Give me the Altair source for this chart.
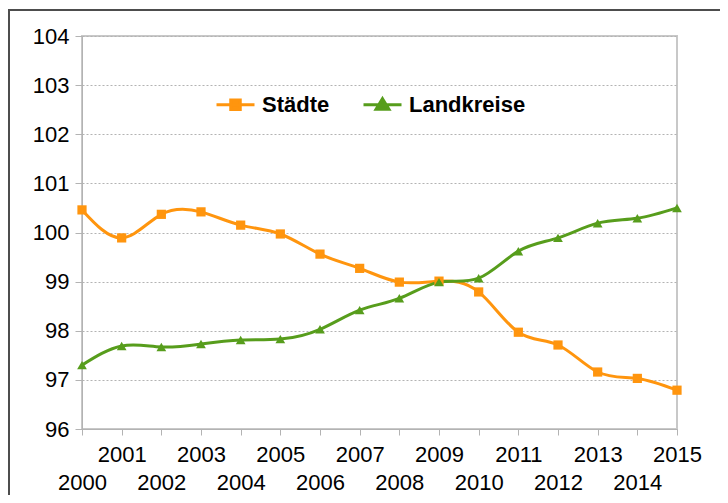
import altair as alt
import pandas as pd

years = list(range(2000, 2016))
staedte = [100.46, 99.89, 100.37, 100.42, 100.15, 99.97, 99.56, 99.27,
           98.99, 99.01, 98.79, 97.97, 97.71, 97.16, 97.03, 96.79]
landkreise = [97.30, 97.69, 97.67, 97.73, 97.81, 97.83, 98.03, 98.42,
              98.66, 98.99, 99.07, 99.62, 99.89, 100.19, 100.29, 100.50]
series_names = ["Städte", "Landkreise"]
series_colors = ["#ff950e", "#579d1c"]
series_shapes = ["square", "triangle-up"]
y_ticks = [96, 97, 98, 99, 100, 101, 102, 103, 104]

rows = []
for name, vals in zip(series_names, [staedte, landkreise]):
    for yr, v in zip(years, vals):
        rows.append({"year": yr, "value": v, "series": name})
df = pd.DataFrame(rows)

FONT = "Liberation Sans"
GRID = "#b3b3b3"

x_enc = alt.X("year:Q",
              scale=alt.Scale(domain=[2000, 2015], nice=False, zero=False),
              axis=alt.Axis(values=years, format="d", title=None,
                            labelExpr="datum.value % 2 == 1 ? [datum.label] : ['', datum.label]",
                            labelLineHeight=28, labelBaseline="top",
                            labelPadding=9, tickSize=6, tickColor=GRID,
                            domainColor=GRID, grid=False, labelFlush=False,
                            labelOverlap=False, labelFont=FONT, labelFontSize=22,
                            labelColor="#000000"))
y_enc = alt.Y("value:Q",
              scale=alt.Scale(domain=[96, 104], nice=False, zero=False),
              axis=alt.Axis(values=y_ticks, title=None, tickSize=7,
                            tickColor=GRID, domainColor=GRID, labelPadding=6,
                            grid=True, gridColor=GRID, gridDash=[2, 2],
                            labelFont=FONT, labelFontSize=22, labelColor="#000000"))

base = alt.Chart(df).encode(x=x_enc, y=y_enc)

layers = []
for name, col, shp in zip(series_names, series_colors, series_shapes):
    sub = base.transform_filter(alt.datum.series == name)
    layers.append(sub.mark_line(interpolate="natural", strokeWidth=3, color=col))
for name, col, shp in zip(series_names, series_colors, series_shapes):
    sub = base.transform_filter(alt.datum.series == name)
    layers.append(sub.mark_point(shape=shp, filled=True, opacity=1, color=col,
                                 size=85 if shp == "square" else 95))

sym_square = "M-1,0H1M-0.25,-0.25H0.25V0.25H-0.25Z"
sym_triangle = "M-1,0H1M0,-0.32L0.34,0.24H-0.34Z"


def make_legend():
    return alt.Legend(title=None, orient="none", direction="horizontal",
                      legendX=133, legendY=48, symbolSize=1444,
                      symbolStrokeWidth=3, symbolOpacity=1,
                      labelFont=FONT, labelFontSize=22,
                      labelFontWeight="bold", labelColor="#000000",
                      labelOffset=6, columnPadding=27, padding=0)


legend_layer = base.mark_point(filled=True).encode(
    fill=alt.Fill("series:N", scale=alt.Scale(domain=series_names, range=series_colors),
                  sort=series_names, legend=make_legend()),
    stroke=alt.Stroke("series:N", scale=alt.Scale(domain=series_names, range=series_colors),
                      sort=series_names, legend=make_legend()),
    shape=alt.Shape("series:N", scale=alt.Scale(domain=series_names,
                                                range=[sym_square, sym_triangle]),
                    sort=series_names, legend=make_legend()),
    size=alt.value(0),
)

frame = alt.Chart(pd.DataFrame({"k": [0]})).mark_rect(
    filled=False, stroke="#4d4d4d", strokeWidth=2
).encode(x=alt.value(-73), x2=alt.value(641), y=alt.value(-26), y2=alt.value(520))

chart = alt.layer(frame, *layers, legend_layer).properties(
    width=595, height=393,
    autosize=alt.AutoSizeParams(type="none"),
    padding={"left": 74, "top": 28, "right": 43, "bottom": 66},
    background="white",
).configure_view(stroke="#c8c8c8", strokeWidth=2)

chart.save("out.html", embed_options={"renderer": "svg", "actions": False})
